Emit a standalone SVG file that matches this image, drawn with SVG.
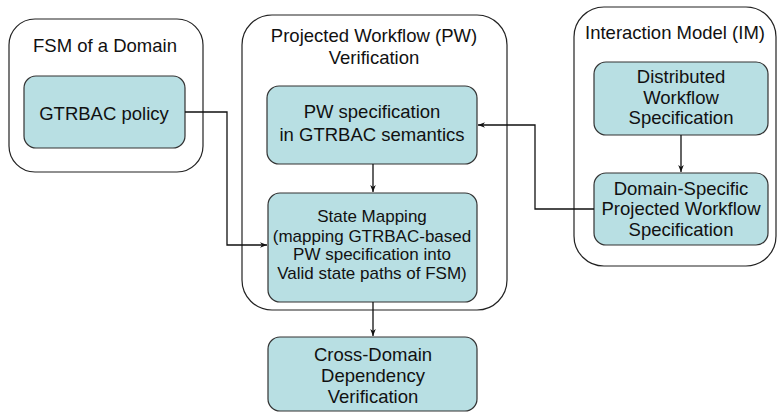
<svg xmlns="http://www.w3.org/2000/svg" width="779" height="413" viewBox="0 0 779 413">
<defs>
<style>
.cont{fill:#fff;stroke:#222;stroke-width:1.2}
.box{fill:#b8dfe3;stroke:#333;stroke-width:1.2}
text{font-family:"Liberation Sans",Arial,sans-serif;font-size:18.5px;fill:#111;text-anchor:middle}
.sm{font-size:17px}
.conn{fill:none;stroke:#111;stroke-width:1.3}
</style>
<marker id="arr" viewBox="0 0 10 10" refX="10" refY="5" markerWidth="7" markerHeight="7" orient="auto" markerUnits="userSpaceOnUse">
<path d="M0,1 L10,5 L0,9 L3,5 Z" fill="#111"/>
</marker>
</defs>
<rect width="779" height="413" fill="#fff"/>
<g id="fsm">
<rect class="cont" x="9" y="19" width="194" height="153" rx="26"/>
<text x="105" y="52">FSM of a Domain</text>
</g>
<g id="pwv">
<rect class="cont" x="242" y="15" width="265" height="295" rx="30"/>
<text x="374" y="42">Projected Workflow (PW)</text>
<text x="374" y="64">Verification</text>
</g>
<g id="im">
<rect class="cont" x="574" y="7" width="202" height="259" rx="30"/>
<text x="675" y="39">Interaction Model (IM)</text>
</g>
<g id="gtrbac">
<rect class="box" x="24" y="76" width="161" height="72" rx="12"/>
<text x="104" y="120">GTRBAC policy</text>
</g>
<g id="pwspec">
<rect class="box" x="267" y="86" width="210" height="78" rx="12"/>
<text x="372" y="118">PW specification</text>
<text x="372" y="141">in GTRBAC semantics</text>
</g>
<g id="statemap">
<rect class="box" x="268" y="193" width="209" height="109" rx="12"/>
<text class="sm" x="372" y="222">State Mapping</text>
<text class="sm" x="372" y="242">(mapping GTRBAC-based</text>
<text class="sm" x="372" y="260">PW specification into</text>
<text class="sm" x="372" y="279">Valid state paths of FSM)</text>
</g>
<g id="dist">
<rect class="box" x="594" y="62" width="174" height="73" rx="12"/>
<text x="681" y="83">Distributed</text>
<text x="681" y="104">Workflow</text>
<text x="681" y="124">Specification</text>
</g>
<g id="dsp">
<rect class="box" x="594" y="173" width="174" height="72" rx="12"/>
<text x="681" y="195">Domain-Specific</text>
<text x="681" y="215">Projected Workflow</text>
<text x="681" y="236">Specification</text>
</g>
<g id="cdv">
<rect class="box" x="268" y="337" width="209" height="74" rx="12"/>
<text x="373" y="361">Cross-Domain</text>
<text x="373" y="382">Dependency</text>
<text x="373" y="403">Verification</text>
</g>
<g id="connectors">
<path class="conn" d="M185,112 H227 V245 H267" marker-end="url(#arr)"/>
<path class="conn" d="M373,164 V192" marker-end="url(#arr)"/>
<path class="conn" d="M594,209 H535 V125 H478" marker-end="url(#arr)"/>
<path class="conn" d="M681,135 V172" marker-end="url(#arr)"/>
<path class="conn" d="M373,302 V336" marker-end="url(#arr)"/>
</g>
</svg>
